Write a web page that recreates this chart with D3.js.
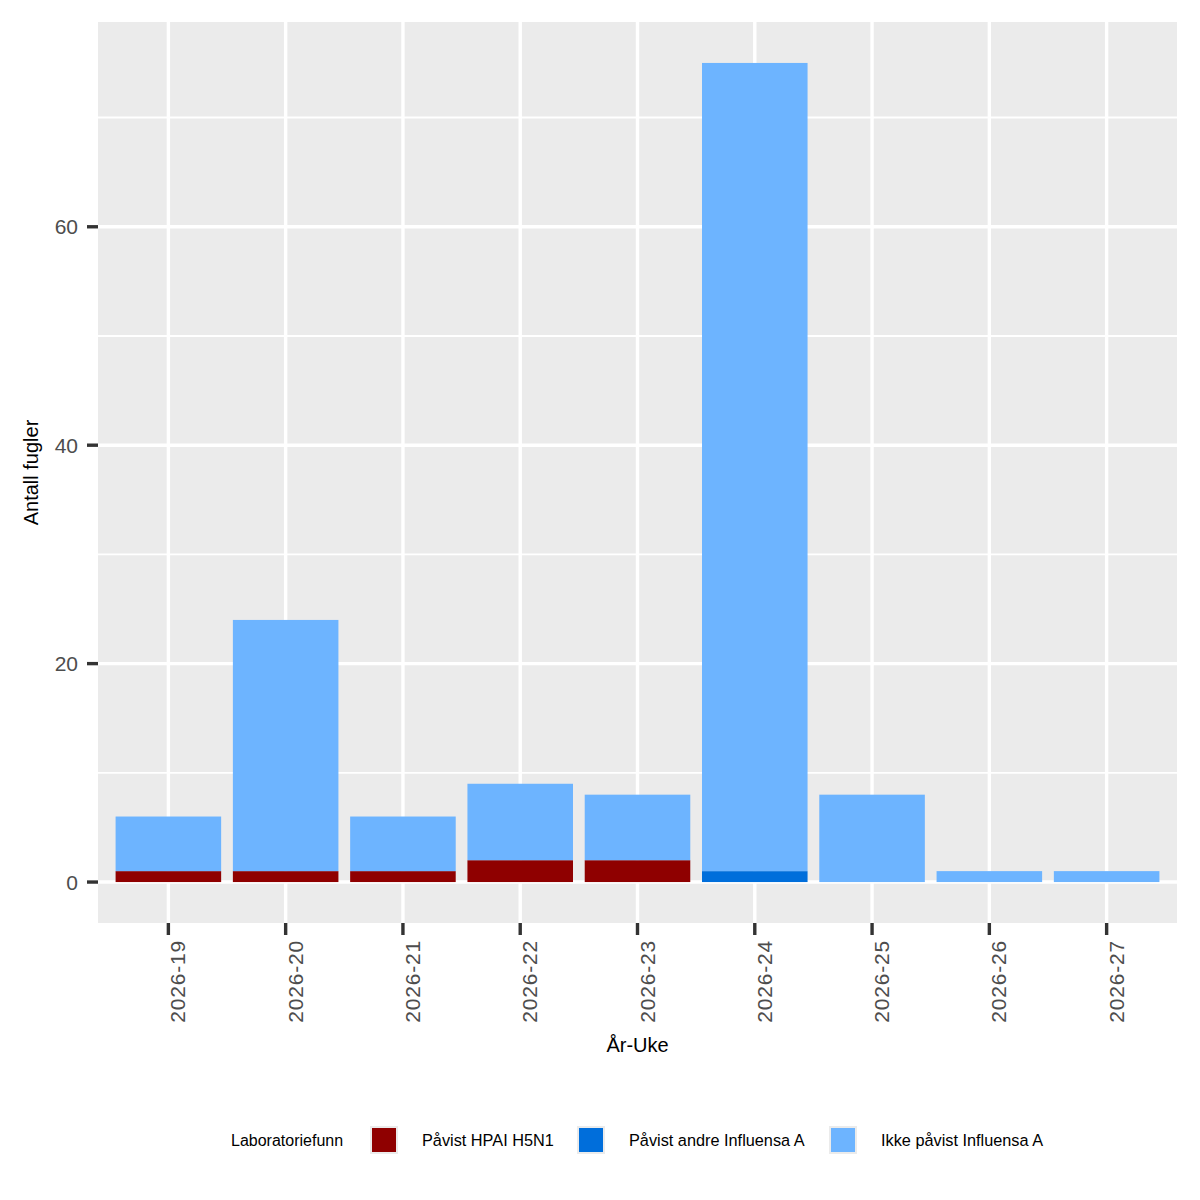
<!DOCTYPE html>
<html><head><meta charset="utf-8">
<script src="https://cdn.jsdelivr.net/npm/d3@7"></script>
<style>body{margin:0;background:#fff;} svg{display:block;}</style>
</head><body>
<svg id="chart" width="1200" height="1200"></svg>
<script>
const categories = ["2026-19","2026-20","2026-21","2026-22","2026-23","2026-24","2026-25","2026-26","2026-27"];
const seriesNames = ["Påvist HPAI H5N1","Påvist andre Influensa A","Ikke påvist Influensa A"];
const hpai = [1,1,1,2,2,0,0,0,0];
const andre = [0,0,0,0,0,1,0,0,0];
const ikke = [5,23,5,7,6,74,8,1,1];
const colors = ["#8f0000","#006edb","#6db4ff"];
const yTicks = [0,20,40,60];
const yMinor = [10,30,50,70];

const svg = d3.select("#chart");
const P = {l:98, r:1177, t:22, b:923};
const font = "'Liberation Sans', Arial, sans-serif";

const rows = categories.map((c,i)=>({cat:c, [seriesNames[0]]:hpai[i], [seriesNames[1]]:andre[i], [seriesNames[2]]:ikke[i]}));
const stack = d3.stack().keys(seriesNames)(rows);
const maxV = d3.max(categories.map((c,i)=>hpai[i]+andre[i]+ikke[i]));

const y = d3.scaleLinear().domain([-0.05*maxV, maxV*1.05]).range([P.b, P.t]);
// ggplot discrete expansion: 0.6 units each side
const x = d3.scalePoint().domain(categories).range([P.l, P.r]).padding(0.6);
const step = x.step();
const xc = c => x(c);
const barW = step*0.9;

svg.append("rect").attr("x",P.l).attr("y",P.t).attr("width",P.r-P.l).attr("height",P.b-P.t).attr("fill","#ebebeb");
const g = svg.append("g");
yMinor.forEach(v=>g.append("line").attr("x1",P.l).attr("x2",P.r).attr("y1",y(v)).attr("y2",y(v)).attr("stroke","#fff").attr("stroke-width",1.9));
yTicks.forEach(v=>g.append("line").attr("x1",P.l).attr("x2",P.r).attr("y1",y(v)).attr("y2",y(v)).attr("stroke","#fff").attr("stroke-width",3.4));
categories.forEach(c=>g.append("line").attr("x1",xc(c)).attr("x2",xc(c)).attr("y1",P.t).attr("y2",P.b).attr("stroke","#fff").attr("stroke-width",3.4));

stack.forEach((s,k)=>{
  g.selectAll(null).data(s).enter().append("rect")
   .attr("x",d=>xc(d.data.cat)-barW/2).attr("width",barW)
   .attr("y",d=>y(d[1])).attr("height",d=>Math.max(0,y(d[0])-y(d[1])))
   .attr("fill",colors[k]);
});

// y axis
yTicks.forEach(v=>{
  svg.append("line").attr("x1",P.l-11).attr("x2",P.l).attr("y1",y(v)).attr("y2",y(v)).attr("stroke","#333").attr("stroke-width",3.4);
  svg.append("text").attr("x",P.l-20).attr("y",y(v)).attr("dy","0.36em").attr("text-anchor","end")
    .attr("font-family",font).attr("font-size",21).attr("fill","#4d4d4d").text(v);
});
// x axis
categories.forEach(c=>{
  svg.append("line").attr("x1",xc(c)).attr("x2",xc(c)).attr("y1",P.b).attr("y2",P.b+12).attr("stroke","#333").attr("stroke-width",3.4);
  svg.append("text").attr("transform",`translate(${xc(c)+17},${P.b+17}) rotate(-90)`).attr("text-anchor","end")
    .attr("font-family",font).attr("font-size",21).attr("letter-spacing","0.8px").attr("fill","#4d4d4d").text(c);
});
svg.append("text").attr("x",(P.l+P.r)/2).attr("y",1052).attr("text-anchor","middle")
  .attr("font-family",font).attr("font-size",20).attr("fill","#000").text("År-Uke");
svg.append("text").attr("transform",`translate(38,${(P.t+P.b)/2}) rotate(-90)`).attr("text-anchor","middle")
  .attr("font-family",font).attr("font-size",20).attr("fill","#000").text("Antall fugler");

// legend
const L = svg.append("g");
L.append("text").attr("x",231).attr("y",1140).attr("dy","0.36em").attr("font-family",font).attr("font-size",16).attr("fill","#000").text("Laboratoriefunn");
const keyX = [370,577,829];
seriesNames.forEach((n,k)=>{
  L.append("rect").attr("x",keyX[k]).attr("y",1126).attr("width",28).attr("height",28).attr("fill","#ebebeb");
  L.append("rect").attr("x",keyX[k]+2).attr("y",1128).attr("width",24).attr("height",24).attr("fill",colors[k]);
  L.append("text").attr("x",keyX[k]+52).attr("y",1140).attr("dy","0.36em").attr("font-family",font).attr("font-size",16.3).attr("fill","#000").text(n);
});
</script>
</body></html>
